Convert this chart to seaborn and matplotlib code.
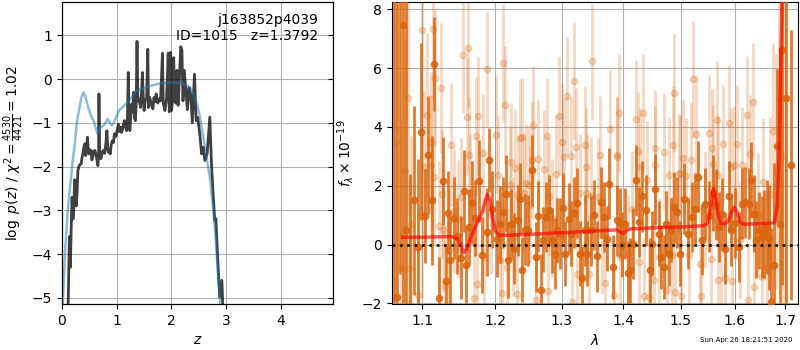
import matplotlib
matplotlib.use("Agg")
import matplotlib.pyplot as plt
from matplotlib.ticker import NullLocator
import seaborn as sns
import pandas as pd

# ---------------- left panel: redshift PDF ----------------
pz_z = [0.10, 0.115, 0.135, 0.153, 0.17, 0.184, 0.20, 0.215, 0.23, 0.245, 0.26, 0.276, 0.29, 0.307,
        0.33, 0.35, 0.365, 0.38, 0.40, 0.417, 0.43, 0.44, 0.455, 0.466, 0.48, 0.49, 0.51, 0.53,
        0.545, 0.56, 0.58, 0.60, 0.62, 0.64, 0.656, 0.668, 0.675, 0.685, 0.693, 0.71, 0.724, 0.74,
        0.76, 0.78, 0.80, 0.82, 0.835, 0.847, 0.865, 0.88, 0.90, 0.92, 0.94, 0.957, 0.975, 0.99,
        1.01, 1.03, 1.05, 1.07, 1.085, 1.10, 1.12, 1.14, 1.16, 1.18, 1.195, 1.21, 1.225, 1.24,
        1.26, 1.276, 1.29, 1.31, 1.325, 1.34, 1.355, 1.37, 1.385, 1.40, 1.42, 1.435, 1.45, 1.47,
        1.485, 1.50, 1.52, 1.546, 1.567, 1.58, 1.60, 1.615, 1.63, 1.66, 1.68, 1.70, 1.72, 1.75,
        1.78, 1.80, 1.835, 1.85, 1.88, 1.91, 1.94, 1.96, 1.98, 2.00, 2.02, 2.04, 2.06, 2.08,
        2.10, 2.12, 2.14, 2.17, 2.19, 2.21, 2.23, 2.26, 2.29, 2.32, 2.35, 2.38, 2.42, 2.45,
        2.48, 2.52, 2.55, 2.58, 2.61, 2.65, 2.70, 2.73, 2.76, 2.79, 2.81, 2.84, 2.88, 2.92,
        2.94, 2.96]
pz_log = [-5.6, -5.0, -3.6, -4.3, -3.3, -2.7, -3.2, -3.0, -2.3, -2.4, -2.9, -2.6, -2.1, -2.0,
          -1.95, -1.94, -1.8, -1.71, -1.55, -1.48, -1.75, -1.71, -1.45, -1.33, -1.6, -1.71, -1.62, -1.63,
          -1.85, -1.79, -1.65, -1.63, -1.72, -1.86, -1.98, -1.7, -0.34, -1.5, -1.71, -1.82, -1.75, -1.66,
          -1.63, -1.7, -1.48, -1.18, -1.55, -1.67, -1.62, -1.71, -1.5, -1.41, -1.45, -1.25, -1.32, -1.29,
          -1.15, -1.03, -1.2, -1.10, -1.22, -1.18, -1.05, -0.95, -1.1, -1.18, -0.9, 0.15, -1.0, -1.18,
          -0.8, -0.57, -0.75, -0.30, -0.9, -0.95, -0.6, 0.86, -0.4, -0.49, -0.55, -0.65, -0.35, 0.15,
          -0.45, -0.72, -0.5, -0.42, 0.68, -0.65, -0.42, -0.48, -0.58, -0.68, -0.42, -0.52, -0.34, -0.55,
          -0.45, -0.5, 0.59, -0.55, -0.72, -0.45, 0.59, -0.75, 0.61, -0.72, -0.5, 0.49, -0.5, -0.55,
          0.2, -0.6, -0.1, 0.74, 0.65, -0.5, 0.2, -0.2, -0.7, -0.2, -0.35, -1.0, 0.11, -0.95,
          -0.88, -1.3, -1.71, -1.56, -1.86, -1.71, -0.87, -1.94, -2.62, -3.23, -3.19, -4.0, -4.98, -4.6,
          -5.3, -6.0]

prior_z = [0.00, 0.02, 0.06, 0.11, 0.153, 0.196, 0.233, 0.276, 0.32, 0.356, 0.393, 0.43, 0.48,
           0.53, 0.577, 0.613, 0.65, 0.675, 0.71, 0.76, 0.80, 0.834, 0.87, 0.91, 0.95, 0.99, 1.04,
           1.10, 1.17, 1.23, 1.29, 1.35, 1.44, 1.53, 1.63, 1.79, 2.00, 2.21, 2.34, 2.43, 2.51,
           2.58, 2.65, 2.71, 2.76, 2.81, 2.85, 2.89, 2.92]
prior_log = [-5.6, -4.98, -3.84, -2.93, -2.40, -1.86, -1.48, -0.95, -0.65, -0.42, -0.30, -0.42, -0.65,
             -0.84, -0.95, -1.10, -1.25, -1.18, -1.10, -1.06, -0.99, -0.91, -0.99, -1.06, -0.99, -0.87, -0.72,
             -0.65, -0.57, -0.49, -0.38, -0.27, -0.23, -0.19, -0.15, -0.10, -0.08, -0.10, -0.19, -0.42, -0.80,
             -1.33, -1.86, -2.32, -2.93, -3.69, -4.45, -5.13, -5.8]

# ---------------- right panel: 1D spectra ----------------
wave_a = [1.0625, 1.0675, 1.0705, 1.0740, 1.0785, 1.0840, 1.0890, 1.0940, 1.0975, 1.1035, 1.1080, 1.1125,
          1.1160, 1.1220, 1.1270, 1.1310, 1.1340, 1.1370, 1.1425, 1.1470, 1.1520, 1.1560, 1.1590, 1.1630,
          1.1670, 1.1720, 1.1770, 1.1810, 1.1880, 1.1915, 1.1960, 1.2034, 1.2072, 1.2115, 1.2155, 1.2190,
          1.2230, 1.2280, 1.2330, 1.2360, 1.2390, 1.2440, 1.2480, 1.2550, 1.2600, 1.2640, 1.2680, 1.2720,
          1.2760, 1.2810, 1.2850, 1.2890, 1.2930, 1.2980, 1.3020, 1.3060, 1.3110, 1.3150, 1.3190, 1.3240,
          1.3290, 1.3330, 1.3370, 1.3410, 1.3460, 1.3510, 1.3570, 1.3630, 1.3680, 1.3720, 1.3760, 1.3830,
          1.3890, 1.3940, 1.3985, 1.4030, 1.4080, 1.4120, 1.4160, 1.4210, 1.4260, 1.4320, 1.4390, 1.4450,
          1.4490, 1.4540, 1.4610, 1.4650, 1.4700, 1.4740, 1.4780, 1.4830, 1.4870, 1.4930, 1.4990, 1.5060,
          1.5130, 1.5200, 1.5260, 1.5320, 1.5390, 1.5450, 1.5520, 1.5600, 1.5650, 1.5700, 1.5760, 1.5820,
          1.5890, 1.5940, 1.6000, 1.6080, 1.6150, 1.6200, 1.6270, 1.6320, 1.6370, 1.6410, 1.6470, 1.6530,
          1.6570, 1.6630, 1.6670, 1.6710, 1.6780, 1.6840, 1.6900, 1.6940, 1.7020, 1.7120]
flux_a = [10.0, -1.78, 9.0, 7.46, 0.5, -2.6, 1.5, -0.08, 3.84, 0.96, 3.05, 1.50,
          6.15, -1.81, 2.17, -1.24, 1.09, -0.53, 0.9, 0.3, -0.44, 1.82, -0.70, 0.6,
          1.43, 0.9, 2.17, -0.36, 0.42, 2.88, 1.2, 0.20, 0.69, 1.1, 1.73, -0.53,
          0.69, -0.14, 0.82, 1.56, -0.85, 0.51, 0.48, 2.52, -0.42, 0.96, -1.53, 0.17,
          0.94, 1.16, 0.15, -0.31, 0.48, 0.37, 1.25, -0.31, 0.88, 0.37, 1.09, 1.41,
          -0.31, -1.15, 0.48, -0.31, 0.48, 1.0, -0.40, 1.44, 0.94, 0.2, 2.07, -0.76,
          0.82, 0.73, 0.0, 0.71, -0.98, -0.87, 0.03, 2.18, 0.77, 1.64, 1.16, -0.87,
          0.03, 1.88, 0.37, -0.42, -0.76, 0.71, -0.31, 0.5, 1.27, 1.10, -0.31, 1.56,
          0.37, 0.94, 1.22, 2.31, 0.17, 1.39, 0.96, 1.75, 1.36, 0.60, 1.05, -0.14,
          1.64, 0.48, 0.73, -0.08, 1.39, 1.44, 1.39, 2.20, 1.05, 0.17, 0.48, 0.26,
          0.37, 0.60, 0.24, -1.95, -0.71, 3.36, 0.69, 6.61, 4.98, 2.7]
err_a = [12.0, 10.0, 10.0, 10.0, 9.0, 5.0, 3.2, 3.0, 3.0, 1.6, 2.0, 2.2,
         1.6, 1.4, 1.5, 1.2, 1.4, 1.5, 1.4, 1.3, 1.4, 1.4, 1.3, 1.3,
         1.4, 1.3, 1.4, 1.3, 1.5, 1.1, 1.3, 1.3, 1.3, 1.2, 1.3, 1.3,
         1.2, 1.2, 1.2, 1.2, 1.1, 1.2, 1.2, 1.2, 1.2, 1.2, 1.2, 1.1,
         1.2, 1.2, 1.1, 1.2, 1.1, 1.2, 1.2, 1.1, 1.2, 1.1, 1.2, 1.2,
         1.1, 1.1, 1.2, 1.1, 1.2, 1.2, 1.2, 1.2, 1.2, 1.1, 1.2, 1.1,
         1.2, 1.2, 1.1, 1.2, 1.1, 1.1, 1.2, 1.2, 1.2, 1.2, 1.2, 1.1,
         1.1, 1.2, 1.1, 1.1, 1.1, 1.1, 1.1, 1.1, 1.2, 1.2, 1.1, 1.2,
         1.2, 1.2, 1.2, 1.2, 1.2, 1.2, 1.2, 1.3, 1.2, 1.2, 1.2, 1.2,
         1.2, 1.2, 1.2, 1.2, 1.2, 1.2, 1.2, 1.3, 1.3, 1.3, 1.3, 1.4,
         1.5, 1.6, 1.8, 2.5, 3.5, 2.6, 6.0, 8.0, 9.0, 4.6]

wave_b = [1.0620, 1.0660, 1.0720, 1.0770, 1.0810, 1.0830, 1.0850, 1.0940, 1.0990, 1.1000, 1.1020, 1.1060,
          1.1110, 1.1120, 1.1140, 1.1150, 1.1170, 1.1220, 1.1250, 1.1260, 1.1280, 1.1300, 1.1350, 1.1390,
          1.1420, 1.1480, 1.1520, 1.1550, 1.1600, 1.1620, 1.1630, 1.1650, 1.1700, 1.1730, 1.1750, 1.1760,
          1.1830, 1.1840, 1.1890, 1.1950, 1.2010, 1.2050, 1.2070, 1.2100, 1.2120, 1.2140, 1.2180, 1.2220,
          1.2230, 1.2270, 1.2290, 1.2315, 1.2330, 1.2360, 1.2390, 1.2420, 1.2460, 1.2500, 1.2520, 1.2550,
          1.2560, 1.2610, 1.2640, 1.2730, 1.2770, 1.2790, 1.2800, 1.2850, 1.2910, 1.2960, 1.3000, 1.3040,
          1.3090, 1.3150, 1.3160, 1.3190, 1.3220, 1.3250, 1.3290, 1.3370, 1.3390, 1.3410, 1.3430, 1.3470,
          1.3490, 1.3580, 1.3620, 1.3640, 1.3690, 1.3780, 1.3850, 1.3890, 1.3900, 1.3920, 1.3950, 1.4080,
          1.4150, 1.4220, 1.4240, 1.4270, 1.4290, 1.4340, 1.4360, 1.4410, 1.4440, 1.4520, 1.4540, 1.4550,
          1.4620, 1.4700, 1.4750, 1.4790, 1.4840, 1.4860, 1.4880, 1.4890, 1.4960, 1.4980, 1.5010, 1.5040,
          1.5100, 1.5140, 1.5190, 1.5220, 1.5270, 1.5350, 1.5370, 1.5450, 1.5520, 1.5550, 1.5580, 1.5600,
          1.5670, 1.5680, 1.5690, 1.5750, 1.5780, 1.5810, 1.5890, 1.5930, 1.5950, 1.5980, 1.6040, 1.6100,
          1.6140, 1.6240, 1.6260, 1.6300, 1.6350, 1.6370, 1.6450, 1.6530, 1.6560, 1.6630, 1.6700, 1.6760,
          1.6820, 1.6880, 1.6950]
flux_b = [4.0, 3.5, -0.8, 2.5, 5.0, -0.79, 0.69, -1.72, 7.29, 1.0, 2.63, 4.4,
          3.48, 2.69, 7.32, 2.29, 5.67, 0.64, 5.32, 1.73, 0.48, -1.40, -0.2, 3.40,
          1.14, 0.86, 1.61, 6.46, 4.35, 6.69, 3.03, 1.75, -1.83, 3.69, -1.35, 4.38,
          3.11, -0.42, 5.96, 1.0, 3.74, 2.38, -0.53, -1.66, 6.17, 4.74, -0.76, 2.04,
          2.81, 0.26, 2.60, -1.69, 1.69, 3.62, 3.67, 1.75, 2.09, 2.04, 1.36, 2.86,
          4.07, -1.87, 2.91, 2.57, 3.68, -1.58, 1.61, 0.9, 2.40, 4.37, 3.48, 2.97,
          5.05, 3.01, -1.95, 5.57, 3.33, -0.99, 1.75, 3.39, 2.65, 1.75, -0.99, 1.66,
          6.23, 1.61, 3.06, 0.31, -1.32, 3.93, -1.72, 2.99, 3.05, 4.48, -0.42, -0.31,
          1.2, 4.28, 3.19, -0.59, 2.63, 4.48, -1.75, 2.21, -1.78, -1.21, 3.27, 2.71,
          -0.42, 3.16, -1.55, 2.35, -0.36, 3.39, 5.16, -1.61, 2.40, 2.45, -1.74, 2.94,
          2.32, -0.36, 2.86, 5.62, 3.76, -0.65, -1.75, 1.2, 3.78, -0.48, 3.29, 2.74,
          4.25, -1.21, 2.38, -0.08, 3.42, -1.13, 4.12, 2.63, -1.24, 2.72, 3.42, 0.15,
          2.69, 4.42, -1.89, 3.08, 4.86, -1.44, 1.0, -1.10, 2.12, -0.76, 1.73, 3.85,
          2.5, 5.0, 3.0]
err_b = [6.0, 5.0, 5.0, 4.5, 4.0, 3.0, 3.0, 3.0, 3.0, 2.8, 2.6, 2.8,
         2.4, 2.4, 2.4, 2.3, 2.3, 2.2, 2.2, 2.2, 2.1, 2.1, 2.1, 2.1,
         2.1, 2.0, 2.0, 2.0, 2.0, 2.0, 2.0, 2.0, 2.0, 2.0, 2.0, 2.0,
         2.0, 2.0, 2.0, 2.0, 2.0, 2.0, 2.0, 2.0, 2.0, 2.0, 2.0, 2.0,
         2.0, 2.0, 2.0, 2.0, 2.0, 2.0, 2.0, 2.0, 2.0, 2.0, 2.0, 2.0,
         2.0, 2.0, 2.0, 2.0, 2.0, 2.0, 2.0, 2.0, 2.0, 2.0, 2.0, 2.0,
         2.0, 2.0, 2.0, 2.0, 2.0, 2.0, 2.0, 2.0, 2.0, 2.0, 2.0, 2.0,
         2.0, 2.0, 2.0, 2.0, 2.0, 2.0, 2.0, 2.0, 2.0, 2.0, 2.0, 2.0,
         2.0, 2.0, 2.0, 2.0, 2.0, 2.0, 2.0, 2.0, 2.0, 2.0, 2.0, 2.0,
         2.0, 2.0, 2.0, 2.0, 2.0, 2.0, 2.0, 2.0, 2.0, 2.0, 2.0, 2.0,
         2.0, 2.0, 2.0, 2.0, 2.0, 2.0, 2.0, 2.0, 2.0, 2.0, 2.0, 2.0,
         2.0, 2.0, 2.0, 2.0, 2.0, 2.0, 2.0, 2.0, 2.0, 2.0, 2.0, 2.0,
         2.0, 2.0, 2.0, 2.0, 2.0, 2.0, 2.1, 2.2, 2.2, 2.4, 2.6, 3.0,
         4.0, 5.0, 6.0]

model_wave = [1.074, 1.100, 1.130, 1.140, 1.147, 1.152, 1.1555, 1.160, 1.166, 1.172, 1.180, 1.185,
              1.189, 1.193, 1.197, 1.201, 1.206, 1.220, 1.260, 1.300, 1.350, 1.390, 1.395, 1.399,
              1.403, 1.410, 1.450, 1.500, 1.540, 1.548, 1.553, 1.557, 1.560, 1.564, 1.569, 1.574,
              1.581, 1.588, 1.594, 1.600, 1.605, 1.610, 1.615, 1.630, 1.660, 1.678, 1.684, 1.688,
              1.691, 1.695]
model_flux = [0.25, 0.25, 0.27, 0.27, 0.20, 0.0, -0.28, -0.15, 0.25, 0.6, 1.0, 1.35,
              1.72, 1.5, 0.9, 0.45, 0.32, 0.32, 0.36, 0.40, 0.46, 0.50, 0.42, 0.38,
              0.44, 0.53, 0.57, 0.60, 0.64, 0.70, 1.0, 1.6, 1.9, 1.6, 1.0, 0.72,
              0.70, 0.80, 1.1, 1.28, 1.1, 0.80, 0.70, 0.70, 0.72, 0.74, 1.3, 3.0,
              6.0, 9.5]

wave_ticks = [1.1, 1.2, 1.3, 1.4, 1.5, 1.6, 1.7]
wave_tick_labels = ["1.1", "1.2", "1.3", "1.4", "1.5", "1.6", "1.7"]
z_ticks = [0, 1, 2, 3, 4]
pz_ticks = [-5, -4, -3, -2, -1, 0, 1]

title_lines = ["j163852p4039", "ID=1015   z=1.3792"]
timestamp = "Sun Apr 26 18:21:51 2020"

# ---------------- figure ----------------
fig = plt.figure(figsize=(8, 3.5), dpi=100)
ax1 = fig.add_axes([62 / 800, 1 - 304 / 350, 271 / 800, 302 / 350])
ax2 = fig.add_axes([392 / 800, 1 - 304 / 350, 406 / 800, 302 / 350])

df_pz = pd.DataFrame({"z": pz_z, "logp": pz_log})
df_pr = pd.DataFrame({"z": prior_z, "logp": prior_log})
sns.lineplot(data=df_pz, x="z", y="logp", ax=ax1, color="k", alpha=0.75, lw=2,
             sort=False, estimator=None)
sns.lineplot(data=df_pr, x="z", y="logp", ax=ax1, color="tab:blue", alpha=0.5, lw=1.8,
             sort=False, estimator=None)
ax1.set_xlim(0, 4.95)
ax1.set_ylim(-5.14, 1.76)
ax1.set_xticks(z_ticks)
ax1.set_yticks(pz_ticks)
ax1.grid(True)
ax1.set_axisbelow(True)
ax1.set_xlabel("$z$", fontsize=10)
ax1.set_ylabel(r"$\log\ p(z)$ / $\chi^2=\frac{4530}{4421}=1.02$", fontsize=10)
ax1.text(0.945, 0.965, "\n".join(title_lines), ha="right", va="top",
         transform=ax1.transAxes, fontsize=10)

# inward ticks on the right spine of the left panel
ax1r = ax1.twinx()
ax1r.set_ylim(ax1.get_ylim())
ax1r.set_yticks(pz_ticks)
ax1r.tick_params(axis="y", direction="in", labelright=False)

orange = "#d9650d"
ax2.errorbar(wave_b, flux_b, yerr=err_b, fmt="o", color=orange, alpha=0.25,
             ms=4.5, elinewidth=2, capsize=0, zorder=2)
ax2.errorbar(wave_a, flux_a, yerr=err_a, fmt="o", color=orange, alpha=0.85,
             ms=4.5, elinewidth=2, capsize=0, zorder=3)
ax2.axhline(0, color="k", ls=":", lw=2, alpha=0.85, zorder=4)
df_m = pd.DataFrame({"wave": model_wave, "flux": model_flux})
sns.lineplot(data=df_m, x="wave", y="flux", ax=ax2, color="red", alpha=0.65, lw=2.5,
             sort=False, estimator=None, zorder=5)
ax2.set_xscale("log")
ax2.set_xlim(1.0605, 1.7266)
ax2.set_ylim(-2.02, 8.25)
ax2.set_xticks(wave_ticks)
ax2.set_xticklabels(wave_tick_labels)
ax2.xaxis.set_minor_locator(NullLocator())
ax2.grid(True)
ax2.set_axisbelow(True)
ax2.set_xlabel(r"$\lambda$", fontsize=10)
ax2.set_ylabel(r"$f_\lambda\times10^{-19}$", fontsize=10)

fig.text(0.99, 0.02, timestamp, ha="right", va="bottom", fontsize=5)

fig.savefig("out.png", dpi=100)
